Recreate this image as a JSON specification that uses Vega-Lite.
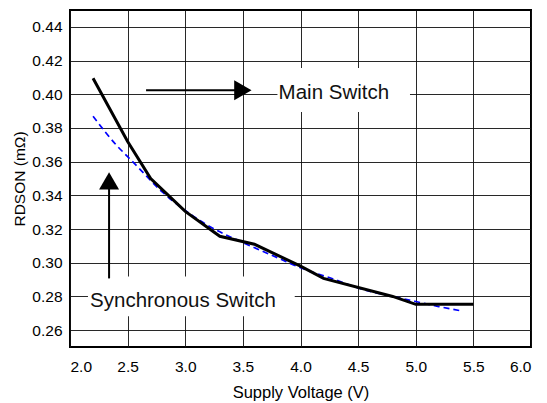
{
  "$schema": "https://vega.github.io/schema/vega-lite/v6.json",
  "width": 461,
  "height": 337,
  "autosize": {"type": "none"},
  "padding": {"left": 70, "top": 10, "right": 16, "bottom": 56},
  "background": "white",
  "config": {
    "font": "Liberation Sans",
    "view": {"stroke": "black", "strokeWidth": 2},
    "axis": {
      "grid": true,
      "gridColor": "#111",
      "gridOpacity": 0.9,
      "gridWidth": 1,
      "ticks": false,
      "domain": false,
      "labelOverlap": false,
      "labelFont": "Liberation Sans",
      "labelFontSize": 15.5,
      "labelColor": "#000",
      "titleFont": "Liberation Sans",
      "titleFontSize": 16.5,
      "titleFontWeight": "normal",
      "titleColor": "#000"
    }
  },
  "datasets": {
    "main": [
      {"x": 2.2, "y": 0.4095},
      {"x": 2.5, "y": 0.372},
      {"x": 2.7, "y": 0.350},
      {"x": 3.0, "y": 0.3305},
      {"x": 3.3, "y": 0.3157},
      {"x": 3.6, "y": 0.311},
      {"x": 4.0, "y": 0.298},
      {"x": 4.2, "y": 0.2907},
      {"x": 4.8, "y": 0.280},
      {"x": 5.0, "y": 0.2753},
      {"x": 5.5, "y": 0.2753}
    ],
    "fit": [
      {"x": 2.2, "y": 0.387},
      {"x": 2.4, "y": 0.370},
      {"x": 2.5, "y": 0.363},
      {"x": 2.6, "y": 0.356},
      {"x": 2.8, "y": 0.342},
      {"x": 3.0, "y": 0.331},
      {"x": 3.2, "y": 0.322},
      {"x": 3.5, "y": 0.312},
      {"x": 3.8, "y": 0.303},
      {"x": 4.0, "y": 0.297},
      {"x": 4.3, "y": 0.290},
      {"x": 4.5, "y": 0.285},
      {"x": 4.8, "y": 0.280},
      {"x": 5.0, "y": 0.277},
      {"x": 5.2, "y": 0.274},
      {"x": 5.4, "y": 0.2714}
    ],
    "boxes": [
      {"x": 3.80, "x2": 4.95, "y": 0.3895, "y2": 0.4156},
      {"x": 2.156, "x2": 3.95, "y": 0.2682, "y2": 0.2919}
    ],
    "arrows": [
      {"x": 2.66, "x2": 3.45, "y": 0.4024, "y2": 0.4024},
      {"x": 2.339, "x2": 2.339, "y": 0.2907, "y2": 0.345}
    ],
    "heads": [
      {"x": 3.50, "y": 0.4024, "shape": "triangle-right"},
      {"x": 2.339, "y": 0.3486, "shape": "triangle-up"}
    ],
    "labels": [
      {"x": 3.81, "y": 0.4007, "text": "Main Switch"},
      {"x": 2.174, "y": 0.2773, "text": "Synchronous Switch"}
    ]
  },
  "encoding": {
    "x": {"field": "x", "type": "quantitative", "scale": {"domain": [2, 6], "nice": false, "zero": false},
          "axis": {"title": "Supply Voltage (V)", "values": [2.0, 2.5, 3.0, 3.5, 4.0, 4.5, 5.0, 5.5, 6.0], "format": ".1f", "labelPadding": 12, "titlePadding": 10, "labelOverlap": false}},
    "y": {"field": "y", "type": "quantitative", "scale": {"domain": [0.25, 0.45], "nice": false, "zero": false},
          "axis": {"title": "RDSON (mΩ)", "titleFontSize": 15.5, "values": [0.26, 0.28, 0.30, 0.32, 0.34, 0.36, 0.38, 0.40, 0.42, 0.44], "format": ".2f", "labelPadding": 8, "titlePadding": 4, "labelOverlap": false}}
  },
  "layer": [
    {
      "data": {"name": "boxes"},
      "mark": {"type": "rect", "color": "white", "stroke": null},
      "encoding": {
        "x2": {"field": "x2"},
        "y2": {"field": "y2"}
      }
    },
    {
      "data": {"name": "fit"},
      "mark": {"type": "line", "color": "#0000ff", "strokeWidth": 1.7, "strokeDash": [6, 4], "interpolate": "monotone"}
    },
    {
      "data": {"name": "main"},
      "mark": {"type": "line", "color": "black", "strokeWidth": 3}
    },
    {
      "data": {"name": "arrows"},
      "mark": {"type": "rule", "color": "black", "strokeWidth": 2},
      "encoding": {
        "x2": {"field": "x2"},
        "y2": {"field": "y2"}
      }
    },
    {
      "data": {"name": "heads"},
      "mark": {"type": "point", "filled": true, "color": "black", "size": 400, "opacity": 1},
      "encoding": {
        "shape": {"field": "shape", "type": "nominal", "scale": null, "legend": null}
      }
    },
    {
      "data": {"name": "labels"},
      "mark": {"type": "text", "align": "left", "baseline": "middle", "fontSize": 20.5, "font": "Liberation Sans", "color": "#111"},
      "encoding": {
        "text": {"field": "text"}
      }
    }
  ]
}
